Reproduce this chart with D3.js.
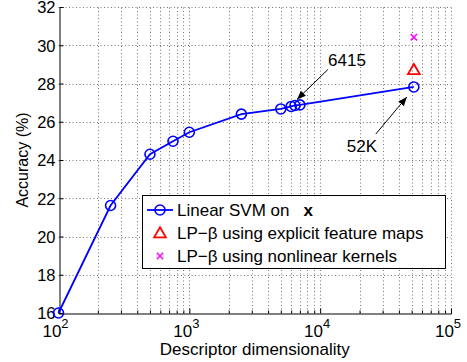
<!DOCTYPE html>
<html>
<head>
<meta charset="utf-8">
<script src="https://cdn.jsdelivr.net/npm/d3@7"></script>
<style>
  body { margin: 0; background: #fff; }
  svg { font-family: "Liberation Sans", Arial, sans-serif; }
</style>
</head>
<body>
<svg width="467" height="362"></svg>
<script>
// data
const dims = [100, 250, 500, 750, 1000, 2500, 5000, 6000, 6415, 7000, 52000]
const svmAcc = [16.0, 21.62, 24.3, 24.98, 25.45, 26.4, 26.67, 26.8, 26.85, 26.88, 27.82]
const lpExplicitDim = [52000]
const lpExplicitAcc = [28.72]
const lpKernelDim = [52000]
const lpKernelAcc = [30.42]
const yTicks = [16, 18, 20, 22, 24, 26, 28, 30, 32]
const xTicks = [1e2, 1e3, 1e4, 1e5]
const legendLabels = ['Linear SVM on', 'LP\u2212\u03b2 using explicit feature maps', 'LP\u2212\u03b2 using nonlinear kernels']

const svg = d3.select('svg')
const fs = 17

const x = d3.scaleLog().domain([100, 1e5]).range([58.5, 451])
const y = d3.scaleLinear().domain([16, 32]).range([313, 7])

// 网格
const minor = []
for (let e = 2; e < 5; e++) for (let k = 1; k < 10; k++) minor.push(k * Math.pow(10, e))
minor.push(1e5)
const grid = svg.append('g').attr('stroke', '#777').attr('stroke-width', 1).attr('stroke-dasharray', '1,2.5')
grid.selectAll('.vx').data(minor.filter(d => d > 100)).enter().append('line')
  .attr('x1', d => Math.round(x(d)) + 0.5).attr('x2', d => Math.round(x(d)) + 0.5)
  .attr('y1', y(16)).attr('y2', y(32))
grid.selectAll('.hy').data(yTicks.filter(d => d > 16)).enter().append('line')
  .attr('y1', d => Math.round(y(d)) + 0.5).attr('y2', d => Math.round(y(d)) + 0.5)
  .attr('x1', x(100)).attr('x2', x(1e5))

// axes
const yAxis = d3.axisLeft(y).tickValues(yTicks).tickSize(-4).tickPadding(4)
const gy = svg.append('g').attr('transform', `translate(${Math.round(x(100)) + 0.5},0)`).call(yAxis)
gy.select('.domain').attr('stroke', '#000')
gy.selectAll('text').attr('font-size', 16.5).attr('fill', '#000').attr('dy', '0.36em')
  .attr('font-family', 'Liberation Sans, Arial, sans-serif')

const xAxis = d3.axisBottom(x).tickValues(minor).tickSize(-3).tickFormat('')
const gx = svg.append('g').attr('transform', `translate(0,${Math.round(y(16)) + 0.5})`).call(xAxis)
gx.select('.domain').attr('stroke', '#000')
gx.selectAll('.tick line').attr('y2', d => xTicks.includes(d) ? -5 : -3)

const xl = svg.append('g')
xTicks.forEach(function (d) {
  const t = xl.append('text').attr('x', x(d) - 3).attr('y', 337).attr('text-anchor', 'middle')
    .attr('font-size', fs)
  t.append('tspan').text('10')
  t.append('tspan').attr('dy', -9).attr('font-size', 13).text(Math.log10(d))
})

svg.append('text').attr('x', (x(100) + x(1e5)) / 2).attr('y', 355).attr('text-anchor', 'middle')
  .attr('font-size', fs).text('Descriptor dimensionality')
svg.append('text').attr('transform', `translate(28,${(y(16) + y(32)) / 2}) rotate(-90)`)
  .attr('text-anchor', 'middle').attr('font-size', 16).text('Accuracy (%)')

// linear svm
const pts = dims.map((d, i) => [d, svmAcc[i]])
svg.append('path').datum(pts)
  .attr('d', d3.line().x(d => x(d[0])).y(d => y(d[1])))
  .attr('fill', 'none').attr('stroke', '#0000ff').attr('stroke-width', 1.8)
svg.selectAll('.svm').data(pts).enter().append('circle')
  .attr('cx', d => x(d[0])).attr('cy', d => y(d[1])).attr('r', 5)
  .attr('fill', 'none').attr('stroke', '#0000ff').attr('stroke-width', 1.6)

const tri = d3.symbol().type(d3.symbolTriangle).size(60)
svg.selectAll('.lpe').data(lpExplicitDim).enter().append('path')
  .attr('d', tri).attr('transform', (d, i) => `translate(${x(d)},${y(lpExplicitAcc[i]) + 1})`)
  .attr('fill', 'none').attr('stroke', '#ff0000').attr('stroke-width', 1.8)

const cross = d3.symbol().type(d3.symbolTimes).size(28)
svg.selectAll('.lpk').data(lpKernelDim).enter().append('path')
  .attr('d', cross).attr('transform', (d, i) => `translate(${x(d)},${y(lpKernelAcc[i])})`)
  .attr('fill', 'none').attr('stroke', '#ff00ff').attr('stroke-width', 1.5)

// annotations
svg.append('defs').append('marker').attr('id', 'ah').attr('viewBox', '0 0 10 10')
  .attr('refX', 10).attr('refY', 5).attr('markerWidth', 9).attr('markerHeight', 9)
  .attr('markerUnits', 'userSpaceOnUse').attr('orient', 'auto')
  .append('path').attr('d', 'M0,1 L10,5 L0,9 Z').attr('fill', '#000')

const p6415 = [x(6415), y(26.85)]
const p52k = [x(52000), y(27.82)]
svg.append('line').attr('x1', p6415[0] + 33).attr('y1', p6415[1] - 36)
  .attr('x2', p6415[0] + 2).attr('y2', p6415[1] - 6)
  .attr('stroke', '#000').attr('stroke-width', 1).attr('marker-end', 'url(#ah)')
svg.append('text').attr('x', p6415[0] + 52).attr('y', p6415[1] - 39).attr('text-anchor', 'middle')
  .attr('font-size', fs).text('6415')
svg.append('line').attr('x1', p52k[0] - 38).attr('y1', p52k[1] + 47)
  .attr('x2', p52k[0] - 7).attr('y2', p52k[1] + 10)
  .attr('stroke', '#000').attr('stroke-width', 1).attr('marker-end', 'url(#ah)')
svg.append('text').attr('x', p52k[0] - 52).attr('y', p52k[1] + 65).attr('text-anchor', 'middle')
  .attr('font-size', fs).text('52K')

// legend
const lg = svg.append('g')
lg.append('rect').attr('x', 142.5).attr('y', 195.5).attr('width', 303).attr('height', 73)
  .attr('fill', '#fff').attr('stroke', '#000').attr('stroke-width', 1)
const ly = [210, 233, 256]
lg.append('line').attr('x1', 147).attr('x2', 173).attr('y1', ly[0]).attr('y2', ly[0])
  .attr('stroke', '#0000ff').attr('stroke-width', 1.8)
lg.append('circle').attr('cx', 160).attr('cy', ly[0]).attr('r', 5)
  .attr('fill', 'none').attr('stroke', '#0000ff').attr('stroke-width', 1.6)
lg.append('path').attr('d', tri).attr('transform', `translate(160,${ly[1] + 1})`)
  .attr('fill', 'none').attr('stroke', '#ff0000').attr('stroke-width', 1.8)
lg.append('path').attr('d', cross).attr('transform', `translate(160,${ly[2]})`)
  .attr('fill', 'none').attr('stroke', '#ff00ff').attr('stroke-width', 1.5)
legendLabels.forEach(function (s, i) {
  const t = lg.append('text').attr('x', 177).attr('y', ly[i] + 6).attr('font-size', fs).text(s)
  if (i === 0) t.append('tspan').attr('dx', 14).attr('font-weight', 'bold').text('x')
})
</script>
</body>
</html>
